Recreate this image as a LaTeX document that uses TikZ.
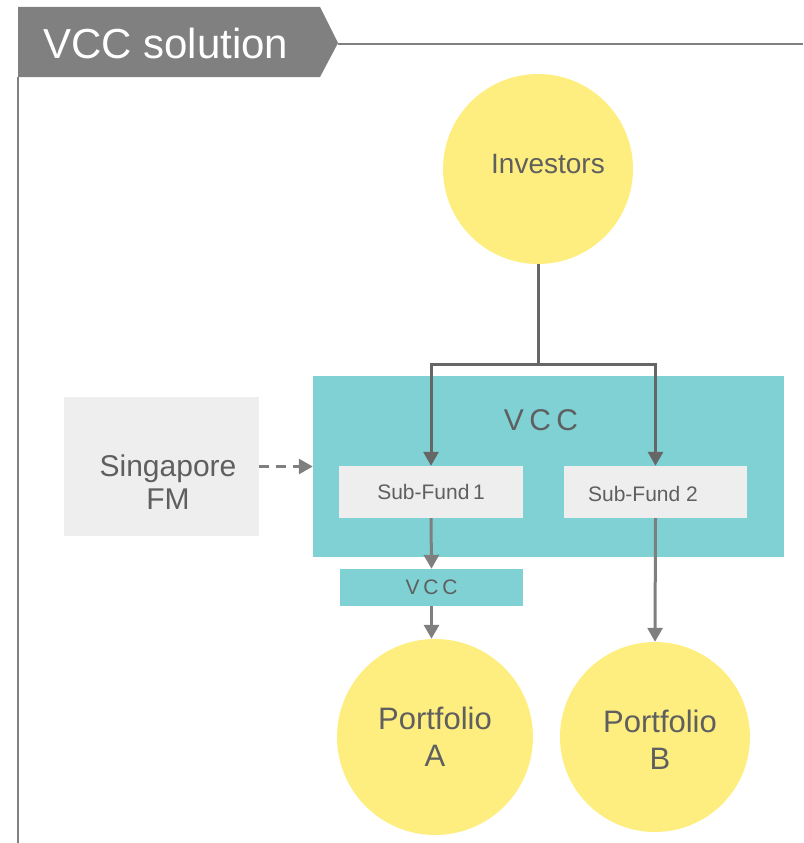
\documentclass[tikz,border=0pt]{standalone}
\usepackage{fontspec}
\setmainfont{Liberation Sans}
\newfontfamily\spacedfont[LetterSpace=18]{Liberation Sans}
\usetikzlibrary{arrows.meta}
\definecolor{hdrgray}{HTML}{808080}
\definecolor{txtgray}{HTML}{5F5F5F}
\definecolor{yel}{HTML}{FDEE7F}
\definecolor{teal}{HTML}{7FD1D4}
\definecolor{lightbox}{HTML}{EEEEEE}
\definecolor{linedark}{HTML}{666666}
\definecolor{linemid}{HTML}{7F7F7F}
\tikzset{
  circ/.style={circle, fill=yel, draw=none, minimum size=192pt, inner sep=0pt, text=txtgray, align=center},
  fundbox/.style={rectangle, fill=lightbox, draw=none, minimum width=184pt, minimum height=52pt, inner sep=0pt, text=txtgray, font=\fontsize{21}{24}\selectfont},
  arr/.style={-{Triangle[width=15pt,length=14pt]}, line width=3pt},
}
\begin{document}
\begin{tikzpicture}[x=1pt,y=-1pt]
\useasboundingbox (0,0) rectangle (803,843);
% header
\fill[hdrgray] (18,7) -- (320,7) -- (338,43) -- (320,77) -- (18,77) -- cycle;
\node[anchor=west, text=white, font=\fontsize{42}{46}\selectfont, inner sep=0pt] (title) at (43,43) {VCC solution};
\draw[hdrgray, line width=1.2pt] (338,44) -- (803,44);
\draw[hdrgray, line width=2pt] (18,77) -- (18,843);
% nodes
\node[circ, minimum size=190pt] (inv) at (538,169) {};
\node[text=txtgray, font=\fontsize{28}{32}\selectfont, inner sep=0pt] (invtext) at (548,164) {Investors};
\node[rectangle, fill=teal, minimum width=471pt, minimum height=181pt, inner sep=0pt] (vcc) at (548.5,466.5) {};
\node[text=txtgray, font=\spacedfont\fontsize{30}{34}\selectfont, inner sep=0pt] (vcclabel) at (541,420) {VCC};
\node[fundbox] (sf1) at (431,492) {Sub-Fund\,1};
\node[fundbox, minimum width=183pt] (sf2) at (655.5,492) {};
\node[text=txtgray, font=\fontsize{21}{24}\selectfont, inner sep=0pt] (sf2text) at (643,494) {Sub-Fund 2};
\node[rectangle, fill=lightbox, minimum width=195pt, minimum height=139pt, inner sep=0pt] (sfm) at (161.5,466.5) {};
\node[text=txtgray, align=center, font=\fontsize{30}{33}\selectfont, inner sep=0pt] (sfmtext) at (168,482) {Singapore\\FM};
\node[rectangle, fill=teal, minimum width=183pt, minimum height=37pt, inner sep=0pt, text=txtgray, font=\spacedfont\fontsize{21}{24}\selectfont] (vcc2) at (431.5,587.5) {VCC};
\node[circ, minimum size=196pt, font=\fontsize{31}{37}\selectfont] (pa) at (435,737) {Portfolio\\A};
\node[circ, minimum size=190pt] (pb) at (655,737) {};
\node[text=txtgray, align=center, font=\fontsize{31}{37}\selectfont, inner sep=0pt] (pbtext) at (660,740) {Portfolio\\B};
% connectors
\coordinate (j) at (538,364);
\draw[linedark, line width=3pt] (inv.south) -- (j);
\draw[arr, linedark] (j) -| (sf1.north);
\draw[arr, linedark] (j) -| (sf2.north);
\draw[arr, linemid] (sf1.south) -- (vcc2.north);
\draw[arr, linemid] (vcc2.south) -- (pa.north -| vcc2.south);
\draw[arr, linemid] (sf2.south) -- (pb.north);
\draw[arr, linemid, dash pattern=on 10pt off 7pt] (sfm.east) -- (vcc.west);
\end{tikzpicture}
\end{document}
